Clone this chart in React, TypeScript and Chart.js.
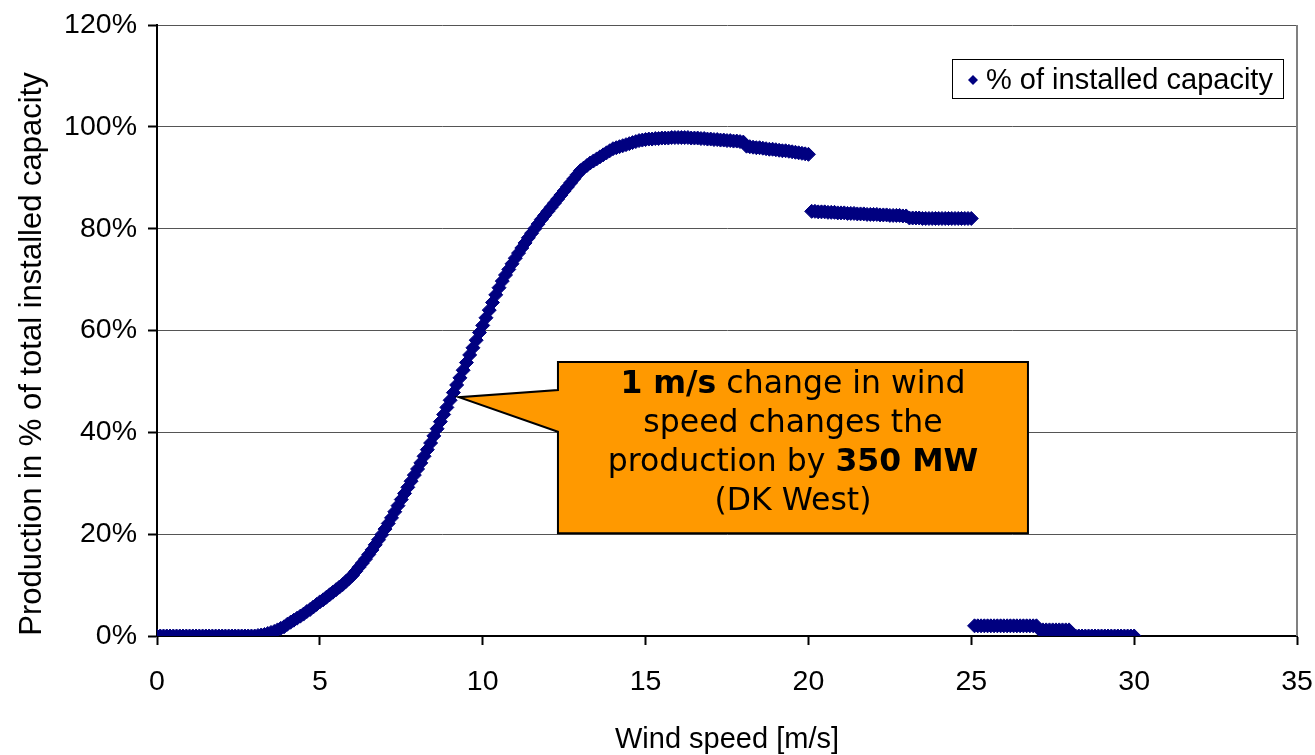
import React, { useEffect, useRef } from "react";
import { Chart, registerables } from "chart.js";

Chart.register(...registerables);

// Wind speed [m/s]
const windSpeed = [
  0.0, 0.1, 0.2, 0.3, 0.4, 0.5, 0.6, 0.7, 0.8, 0.9,
  1.0, 1.1, 1.2, 1.3, 1.4, 1.5, 1.6, 1.7, 1.8, 1.9,
  2.0, 2.1, 2.2, 2.3, 2.4, 2.5, 2.6, 2.7, 2.8, 2.9,
  3.0, 3.1, 3.2, 3.3, 3.4, 3.5, 3.6, 3.7, 3.8, 3.9,
  4.0, 4.1, 4.2, 4.3, 4.4, 4.5, 4.6, 4.7, 4.8, 4.9,
  5.0, 5.1, 5.2, 5.3, 5.4, 5.5, 5.6, 5.7, 5.8, 5.9,
  6.0, 6.1, 6.2, 6.3, 6.4, 6.5, 6.6, 6.7, 6.8, 6.9,
  7.0, 7.1, 7.2, 7.3, 7.4, 7.5, 7.6, 7.7, 7.8, 7.9,
  8.0, 8.1, 8.2, 8.3, 8.4, 8.5, 8.6, 8.7, 8.8, 8.9,
  9.0, 9.1, 9.2, 9.3, 9.4, 9.5, 9.6, 9.7, 9.8, 9.9,
  10.0, 10.1, 10.2, 10.3, 10.4, 10.5, 10.6, 10.7, 10.8, 10.9,
  11.0, 11.1, 11.2, 11.3, 11.4, 11.5, 11.6, 11.7, 11.8, 11.9,
  12.0, 12.1, 12.2, 12.3, 12.4, 12.5, 12.6, 12.7, 12.8, 12.9,
  13.0, 13.1, 13.2, 13.3, 13.4, 13.5, 13.6, 13.7, 13.8, 13.9,
  14.0, 14.1, 14.2, 14.3, 14.4, 14.5, 14.6, 14.7, 14.8, 14.9,
  15.0, 15.1, 15.2, 15.3, 15.4, 15.5, 15.6, 15.7, 15.8, 15.9,
  16.0, 16.1, 16.2, 16.3, 16.4, 16.5, 16.6, 16.7, 16.8, 16.9,
  17.0, 17.1, 17.2, 17.3, 17.4, 17.5, 17.6, 17.7, 17.8, 17.9,
  18.0, 18.1, 18.2, 18.3, 18.4, 18.5, 18.6, 18.7, 18.8, 18.9,
  19.0, 19.1, 19.2, 19.3, 19.4, 19.5, 19.6, 19.7, 19.8, 19.9,
  20.0, 20.1, 20.2, 20.3, 20.4, 20.5, 20.6, 20.7, 20.8, 20.9,
  21.0, 21.1, 21.2, 21.3, 21.4, 21.5, 21.6, 21.7, 21.8, 21.9,
  22.0, 22.1, 22.2, 22.3, 22.4, 22.5, 22.6, 22.7, 22.8, 22.9,
  23.0, 23.1, 23.2, 23.3, 23.4, 23.5, 23.6, 23.7, 23.8, 23.9,
  24.0, 24.1, 24.2, 24.3, 24.4, 24.5, 24.6, 24.7, 24.8, 24.9,
  25.0, 25.1, 25.2, 25.3, 25.4, 25.5, 25.6, 25.7, 25.8, 25.9,
  26.0, 26.1, 26.2, 26.3, 26.4, 26.5, 26.6, 26.7, 26.8, 26.9,
  27.0, 27.1, 27.2, 27.3, 27.4, 27.5, 27.6, 27.7, 27.8, 27.9,
  28.0, 28.1, 28.2, 28.3, 28.4, 28.5, 28.6, 28.7, 28.8, 28.9,
  29.0, 29.1, 29.2, 29.3, 29.4, 29.5, 29.6, 29.7, 29.8, 29.9,
  30.0,
];

// Production in % of installed capacity
const production = [
  0, 0, 0, 0, 0, 0, 0, 0, 0, 0,
  0, 0, 0, 0, 0, 0, 0, 0, 0, 0,
  0, 0, 0, 0, 0, 0, 0, 0, 0, 0,
  0, 0.1, 0.2, 0.3, 0.5, 0.7, 0.9, 1.2, 1.5, 1.8,
  2.3, 2.7, 3.1, 3.5, 3.9, 4.3, 4.8, 5.2, 5.7, 6.2,
  6.7, 7.1, 7.6, 8.1, 8.6, 9.1, 9.6, 10.1, 10.7, 11.3,
  11.9, 12.7, 13.5, 14.3, 15.1, 16.0, 16.9, 17.9, 18.9, 19.9,
  21.0, 22.1, 23.2, 24.4, 25.6, 26.8, 28.0, 29.2, 30.4, 31.6,
  32.8, 34.0, 35.3, 36.6, 37.9, 39.3, 40.7, 42.1, 43.5, 44.9,
  46.3, 47.8, 49.3, 50.7, 52.2, 53.7, 55.2, 56.6, 58.1, 59.6,
  61.0, 62.5, 64.0, 65.5, 67.0, 68.4, 69.7, 70.9, 72.0, 73.1,
  74.2, 75.2, 76.2, 77.2, 78.2, 79.1, 80.0, 80.9, 81.8, 82.6,
  83.4, 84.2, 85.0, 85.8, 86.6, 87.4, 88.2, 89.0, 89.8, 90.6,
  91.4, 91.9, 92.4, 92.9, 93.3, 93.7, 94.1, 94.5, 94.9, 95.3,
  95.7, 95.9, 96.1, 96.3, 96.5, 96.7, 96.9, 97.1, 97.3, 97.4,
  97.5, 97.6, 97.6, 97.7, 97.7, 97.8, 97.8, 97.8, 97.9, 97.9,
  97.9, 97.9, 97.9, 97.9, 97.8, 97.8, 97.8, 97.7, 97.7, 97.6,
  97.6, 97.5, 97.5, 97.4, 97.4, 97.3, 97.3, 97.2, 97.2, 97.1,
  97.0, 96.2, 96.1, 96.0, 95.9, 95.9, 95.8, 95.7, 95.6, 95.6,
  95.5, 95.4, 95.3, 95.3, 95.2, 95.1, 95.0, 94.9, 94.8, 94.7,
  94.6, 83.4, 83.4, 83.3, 83.3, 83.3, 83.2, 83.2, 83.2, 83.1,
  83.1, 83.1, 83.0, 83.0, 83.0, 82.9, 82.9, 82.9, 82.8, 82.8,
  82.8, 82.8, 82.7, 82.7, 82.7, 82.6, 82.6, 82.6, 82.6, 82.5,
  82.5, 82.1, 82.1, 82.1, 82.1, 82.0, 82.0, 82.0, 82.0, 82.0,
  82.0, 82.0, 82.0, 82.0, 82.0, 82.0, 82.0, 82.0, 82.0, 82.0,
  82.0, 2.0, 2.0, 2.0, 2.0, 2.0, 2.0, 2.0, 2.0, 2.0,
  2.0, 2.0, 2.0, 2.0, 2.0, 2.0, 2.0, 2.0, 2.0, 2.0,
  2.0, 1.2, 1.2, 1.2, 1.2, 1.2, 1.2, 1.2, 1.2, 1.2,
  1.2, 0, 0, 0, 0, 0, 0, 0, 0, 0,
  0, 0, 0, 0, 0, 0, 0, 0, 0, 0,
  0,
];

const seriesLabel = "% of installed capacity";
const xTitle = "Wind speed [m/s]";
const yTitle = "Production in % of total installed capacity";
const xMin = 0;
const xMax = 35;
const xStep = 5;
const yMin = 0;
const yMax = 120;
const yStep = 20;

// Callout text: runs of [text, bold]
const calloutLines: [string, boolean][][] = [
  [["1 m/s", true], [" change in wind", false]],
  [["speed changes the", false]],
  [["production by ", false], ["350 MW", true]],
  [["(DK West)", false]],
];

const NAVY = "#000080";
const AXIS_FONT = "'Liberation Sans', Arial, sans-serif";
const CALLOUT_FONT = "'DejaVu Sans', Verdana, sans-serif";

const overlayPlugin = {
  id: "overlay",
  afterDraw(chart: any) {
    const { ctx, chartArea: a, scales } = chart;
    const xs = scales.x;
    const ys = scales.y;
    ctx.save();

    // right frame line
    ctx.strokeStyle = "#808080";
    ctx.lineWidth = 2;
    ctx.beginPath();
    ctx.moveTo(a.right, a.top);
    ctx.lineTo(a.right, a.bottom);
    ctx.stroke();

    // callout box (anchored in data units)
    const L = xs.getPixelForValue(12.31);
    const R = xs.getPixelForValue(26.74);
    const T = ys.getPixelForValue(53.8);
    const B = ys.getPixelForValue(20.2);
    const nt = ys.getPixelForValue(48.3);
    const nb = ys.getPixelForValue(40.1);
    const tx = xs.getPixelForValue(9.27);
    const ty = ys.getPixelForValue(46.9);
    ctx.beginPath();
    ctx.moveTo(L, T);
    ctx.lineTo(R, T);
    ctx.lineTo(R, B);
    ctx.lineTo(L, B);
    ctx.lineTo(L, nb);
    ctx.lineTo(tx, ty);
    ctx.lineTo(L, nt);
    ctx.closePath();
    ctx.fillStyle = "#FF9900";
    ctx.fill();
    ctx.strokeStyle = "#000";
    ctx.lineWidth = 2;
    ctx.lineJoin = "miter";
    ctx.stroke();

    // callout text
    const cx = (L + R) / 2;
    const size = 31.5;
    const lineGap = 39;
    const firstBase = T + 31;
    ctx.fillStyle = "#000";
    ctx.textBaseline = "alphabetic";
    ctx.textAlign = "left";
    calloutLines.forEach((runs, i) => {
      let total = 0;
      const widths = runs.map(([t, b]) => {
        ctx.font = `${b ? "bold " : ""}${size}px ${CALLOUT_FONT}`;
        const w = ctx.measureText(t).width;
        total += w;
        return w;
      });
      let x = cx - total / 2;
      const y = firstBase + i * lineGap;
      runs.forEach(([t, b], j) => {
        ctx.font = `${b ? "bold " : ""}${size}px ${CALLOUT_FONT}`;
        ctx.fillText(t, x, y);
        x += widths[j];
      });
    });

    // legend box
    const lx = 952, ly = 59, lw = 331, lh = 39;
    ctx.fillStyle = "#fff";
    ctx.fillRect(lx, ly, lw, lh);
    ctx.strokeStyle = "#000";
    ctx.lineWidth = 1;
    ctx.strokeRect(lx + 0.5, ly + 0.5, lw, lh);
    const dx = 973, dy = 80, dr = 5;
    ctx.beginPath();
    ctx.moveTo(dx - dr, dy);
    ctx.lineTo(dx, dy - dr);
    ctx.lineTo(dx + dr, dy);
    ctx.lineTo(dx, dy + dr);
    ctx.closePath();
    ctx.fillStyle = NAVY;
    ctx.fill();
    ctx.font = `29px ${AXIS_FONT}`;
    ctx.fillStyle = "#000";
    ctx.textAlign = "left";
    ctx.fillText(seriesLabel, 986, 89);

    // axis titles
    ctx.textAlign = "center";
    ctx.font = `29px ${AXIS_FONT}`;
    ctx.fillText(xTitle, (a.left + a.right) / 2, 748);
    ctx.save();
    ctx.translate(41, 354);
    ctx.rotate(-Math.PI / 2);
    ctx.font = `31px ${AXIS_FONT}`;
    ctx.fillText(yTitle, 0, 0);
    ctx.restore();

    ctx.restore();
  },
};

export default function App() {
  const canvasRef = useRef<HTMLCanvasElement | null>(null);

  useEffect(() => {
    const canvas = canvasRef.current;
    if (!canvas) return;
    const points = windSpeed.map((v, i) => ({ x: v, y: production[i] }));
    const chart = new Chart(canvas, {
      type: "scatter",
      data: {
        datasets: [
          {
            label: seriesLabel,
            data: points,
            pointStyle: "rectRot",
            pointRadius: 7,
            pointBorderWidth: 1,
            backgroundColor: NAVY,
            borderColor: NAVY,
            showLine: false,
          },
        ],
      },
      options: {
        animation: false,
        responsive: false,
        devicePixelRatio: 1,
        layout: { padding: { top: 25, right: 18, left: 0, bottom: 0 } },
        plugins: {
          legend: { display: false },
          tooltip: { enabled: false },
        },
        scales: {
          x: {
            type: "linear",
            min: xMin,
            max: xMax,
            ticks: {
              stepSize: xStep,
              color: "#000",
              font: { family: AXIS_FONT, size: 28.5 },
              padding: 20,
              maxRotation: 0,
            },
            grid: {
              drawOnChartArea: false,
              drawTicks: true,
              tickLength: 9,
              tickColor: "#000",
              tickWidth: 2,
            },
            border: { color: "#000", width: 2 },
            afterFit: (s: any) => {
              s.height = 119;
              s.paddingLeft = 0;
              s.paddingRight = 0;
            },
          },
          y: {
            min: yMin,
            max: yMax,
            ticks: {
              stepSize: yStep,
              color: "#000",
              font: { family: AXIS_FONT, size: 28.5 },
              padding: 11,
              callback: (v: any) => `${v}%`,
            },
            grid: {
              color: "#555",
              lineWidth: 1,
              drawTicks: true,
              tickLength: 9,
              tickColor: "#000",
              tickWidth: 2,
            },
            border: { color: "#000", width: 2 },
            afterFit: (s: any) => {
              s.width = 157;
              s.paddingTop = 0;
              s.paddingBottom = 0;
            },
          },
        },
      },
      plugins: [overlayPlugin],
    });
    return () => chart.destroy();
  }, []);

  return (
    <div style={{ position: "fixed", left: 0, top: 0, width: 1315, height: 755, background: "#fff" }}>
      <canvas ref={canvasRef} width={1315} height={755} style={{ display: "block" }} />
    </div>
  );
}
